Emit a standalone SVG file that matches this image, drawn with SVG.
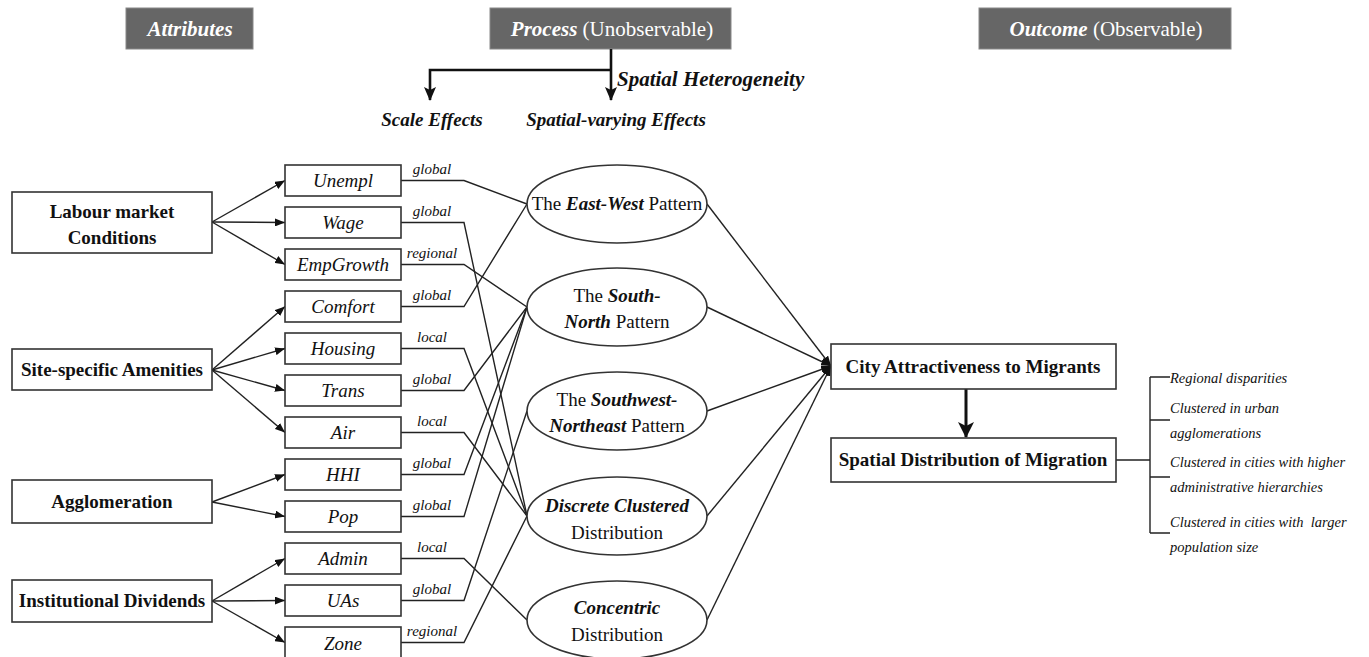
<svg xmlns="http://www.w3.org/2000/svg" width="1369" height="657" viewBox="0 0 1369 657">
<style>
text{font-family:"Liberation Serif","Times New Roman",serif;fill:#111}
.hdr{fill:#666;stroke:#888;stroke-width:1}
.ht{fill:#fff;font-size:21px}
.box{fill:#fff;stroke:#333;stroke-width:1.6}
.bt{font-size:19px;font-weight:bold;text-anchor:middle}
.vt{font-size:19px;font-style:italic;text-anchor:middle}
.lb{font-size:15px;font-style:italic;text-anchor:middle}
.et{font-size:19px;text-anchor:middle}
.bi{font-weight:bold;font-style:italic}
.rt{font-size:14.5px;font-style:italic}
.ln{fill:none;stroke:#222;stroke-width:1.4}
.thick{fill:none;stroke:#111;stroke-width:2.6}
</style>
<defs>
<marker id="ah" markerUnits="userSpaceOnUse" markerWidth="10" markerHeight="8" refX="10" refY="4" orient="auto"><path d="M0,0 L10,4 L0,8 z" fill="#111"/></marker>
<marker id="big" markerUnits="userSpaceOnUse" markerWidth="14" markerHeight="12" refX="13" refY="6" orient="auto"><path d="M0,0 L14,6 L0,12 L3,6 z" fill="#111"/></marker>
<marker id="big2" markerUnits="userSpaceOnUse" markerWidth="16" markerHeight="16" refX="15" refY="8" orient="auto"><path d="M0,0 L16,8 L0,16 L4,8 z" fill="#111"/></marker>
</defs>

<g id="header-attributes"><rect class="hdr" x="126" y="8" width="127" height="41"/><text class="ht bi" x="190" y="36" text-anchor="middle">Attributes</text></g>
<g id="header-process"><rect class="hdr" x="490" y="8" width="241" height="41"/><text class="ht" x="612" y="36" text-anchor="middle"><tspan class="bi">Process</tspan> (Unobservable)</text></g>
<g id="header-outcome"><rect class="hdr" x="979" y="8" width="252" height="41"/><text class="ht" x="1106" y="36" text-anchor="middle"><tspan class="bi">Outcome</tspan> (Observable)</text></g>

<g id="top-labels">
<text class="bi" x="617" y="86" font-size="21">Spatial Heterogeneity</text>
<text class="bi" x="432" y="126" font-size="19" text-anchor="middle">Scale Effects</text>
<text class="bi" x="616" y="126" font-size="19" text-anchor="middle">Spatial-varying Effects</text>
</g>

<g id="connectors">
<path class="thick" d="M611,49 V100" marker-end="url(#big)"/>
<path class="thick" d="M611,70 H430 V100" marker-end="url(#big)"/>
<g class="ln">
<path d="M212,222 L285,180.5" marker-end="url(#ah)"/>
<path d="M212,222 L285,222.5" marker-end="url(#ah)"/>
<path d="M212,222 L285,264.5" marker-end="url(#ah)"/>
<path d="M212,370 L285,306.5" marker-end="url(#ah)"/>
<path d="M212,370 L285,348.5" marker-end="url(#ah)"/>
<path d="M212,370 L285,390.5" marker-end="url(#ah)"/>
<path d="M212,370 L285,432.5" marker-end="url(#ah)"/>
<path d="M212,502 L285,474.5" marker-end="url(#ah)"/>
<path d="M212,502 L285,516.5" marker-end="url(#ah)"/>
<path d="M212,601 L285,558.5" marker-end="url(#ah)"/>
<path d="M212,601 L285,600.5" marker-end="url(#ah)"/>
<path d="M212,601 L285,642.5" marker-end="url(#ah)"/>
<polyline points="401,180.5 464,180.5 527,204"/>
<polyline points="401,222.5 464,222.5 527,516"/>
<polyline points="401,264.5 464,264.5 527,307"/>
<polyline points="401,306.5 464,306.5 527,204"/>
<polyline points="401,348.5 464,348.5 527,516"/>
<polyline points="401,390.5 464,390.5 527,307"/>
<polyline points="401,432.5 464,432.5 527,516"/>
<polyline points="401,474.5 464,474.5 527,307"/>
<polyline points="401,516.5 464,516.5 527,307"/>
<polyline points="401,558.5 464,558.5 527,620"/>
<polyline points="401,600.5 464,600.5 527,411"/>
<polyline points="401,642.5 464,642.5 527,516"/>
<path d="M707,204 L831,366" marker-end="url(#ah)"/>
<path d="M707,307 L831,366" marker-end="url(#ah)"/>
<path d="M707,411 L831,366" marker-end="url(#ah)"/>
<path d="M707,516 L831,366" marker-end="url(#ah)"/>
<path d="M707,620 L831,366" marker-end="url(#ah)"/>
<path d="M1116,460 H1150 M1150,377 V533 M1150,377 H1170 M1150,420 H1170 M1150,477 H1170 M1150,533 H1170"/>
</g>
<path d="M966,389 V437" fill="none" stroke="#111" stroke-width="3" marker-end="url(#big2)"/>
</g>

<g id="labels">
<text class="lb" x="432" y="174">global</text>
<text class="lb" x="432" y="216">global</text>
<text class="lb" x="432" y="258">regional</text>
<text class="lb" x="432" y="300">global</text>
<text class="lb" x="432" y="342">local</text>
<text class="lb" x="432" y="384">global</text>
<text class="lb" x="432" y="426">local</text>
<text class="lb" x="432" y="468">global</text>
<text class="lb" x="432" y="510">global</text>
<text class="lb" x="432" y="552">local</text>
<text class="lb" x="432" y="594">global</text>
<text class="lb" x="432" y="636">regional</text>
</g>

<g id="labour"><rect class="box" x="12" y="192" width="200" height="61"/><text class="bt" x="112" y="218">Labour market</text><text class="bt" x="112" y="244">Conditions</text></g>
<g id="amenities"><rect class="box" x="12" y="349" width="200" height="41"/><text class="bt" x="112" y="376">Site-specific Amenities</text></g>
<g id="agglomeration"><rect class="box" x="12" y="480" width="200" height="43"/><text class="bt" x="112" y="508">Agglomeration</text></g>
<g id="institutional"><rect class="box" x="12" y="580" width="200" height="42"/><text class="bt" x="112" y="607">Institutional Dividends</text></g>

<g id="unempl"><rect class="box" x="285" y="165" width="116" height="31"/><text class="vt" x="343" y="187">Unempl</text></g>
<g id="wage"><rect class="box" x="285" y="207" width="116" height="31"/><text class="vt" x="343" y="229">Wage</text></g>
<g id="empgrowth"><rect class="box" x="285" y="249" width="116" height="31"/><text class="vt" x="343" y="271">EmpGrowth</text></g>
<g id="comfort"><rect class="box" x="285" y="291" width="116" height="31"/><text class="vt" x="343" y="313">Comfort</text></g>
<g id="housing"><rect class="box" x="285" y="333" width="116" height="31"/><text class="vt" x="343" y="355">Housing</text></g>
<g id="trans"><rect class="box" x="285" y="375" width="116" height="31"/><text class="vt" x="343" y="397">Trans</text></g>
<g id="air"><rect class="box" x="285" y="417" width="116" height="31"/><text class="vt" x="343" y="439">Air</text></g>
<g id="hhi"><rect class="box" x="285" y="459" width="116" height="31"/><text class="vt" x="343" y="481">HHI</text></g>
<g id="pop"><rect class="box" x="285" y="501" width="116" height="31"/><text class="vt" x="343" y="523">Pop</text></g>
<g id="admin"><rect class="box" x="285" y="543" width="116" height="31"/><text class="vt" x="343" y="565">Admin</text></g>
<g id="uas"><rect class="box" x="285" y="585" width="116" height="31"/><text class="vt" x="343" y="607">UAs</text></g>
<g id="zone"><rect class="box" x="285" y="627" width="116" height="31"/><text class="vt" x="343" y="650">Zone</text></g>

<g id="east-west"><ellipse class="box" cx="617" cy="204" rx="90" ry="39"/><text class="et" x="617" y="210">The <tspan class="bi">East-West</tspan> Pattern</text></g>
<g id="south-north"><ellipse class="box" cx="617" cy="307" rx="90" ry="39"/><text class="et" x="617" y="302">The <tspan class="bi">South-</tspan></text><text class="et" x="617" y="328"><tspan class="bi">North</tspan> Pattern</text></g>
<g id="southwest-northeast"><ellipse class="box" cx="617" cy="411" rx="90" ry="39"/><text class="et" x="617" y="406">The <tspan class="bi">Southwest-</tspan></text><text class="et" x="617" y="432"><tspan class="bi">Northeast</tspan> Pattern</text></g>
<g id="discrete-clustered"><ellipse class="box" cx="617" cy="516" rx="90" ry="39"/><text class="et" x="617" y="512"><tspan class="bi">Discrete Clustered</tspan></text><text class="et" x="617" y="539">Distribution</text></g>
<g id="concentric"><ellipse class="box" cx="617" cy="620" rx="90" ry="39"/><text class="et" x="617" y="614"><tspan class="bi">Concentric</tspan></text><text class="et" x="617" y="641">Distribution</text></g>

<g id="city-attractiveness"><rect class="box" x="831" y="344" width="285" height="45"/><text class="bt" x="973" y="373">City Attractiveness to Migrants</text></g>
<g id="spatial-distribution"><rect class="box" x="831" y="438" width="285" height="44"/><text class="bt" x="973" y="466">Spatial Distribution of Migration</text></g>

<g id="outcome-notes">
<text class="rt" x="1170" y="383">Regional disparities</text>
<text class="rt" x="1170" y="413">Clustered in urban</text>
<text class="rt" x="1170" y="438">agglomerations</text>
<text class="rt" x="1170" y="467">Clustered in cities with higher</text>
<text class="rt" x="1170" y="492">administrative hierarchies</text>
<text class="rt" x="1170" y="527" xml:space="preserve">Clustered in cities with  larger</text>
<text class="rt" x="1170" y="552">population size</text>
</g>
</svg>
